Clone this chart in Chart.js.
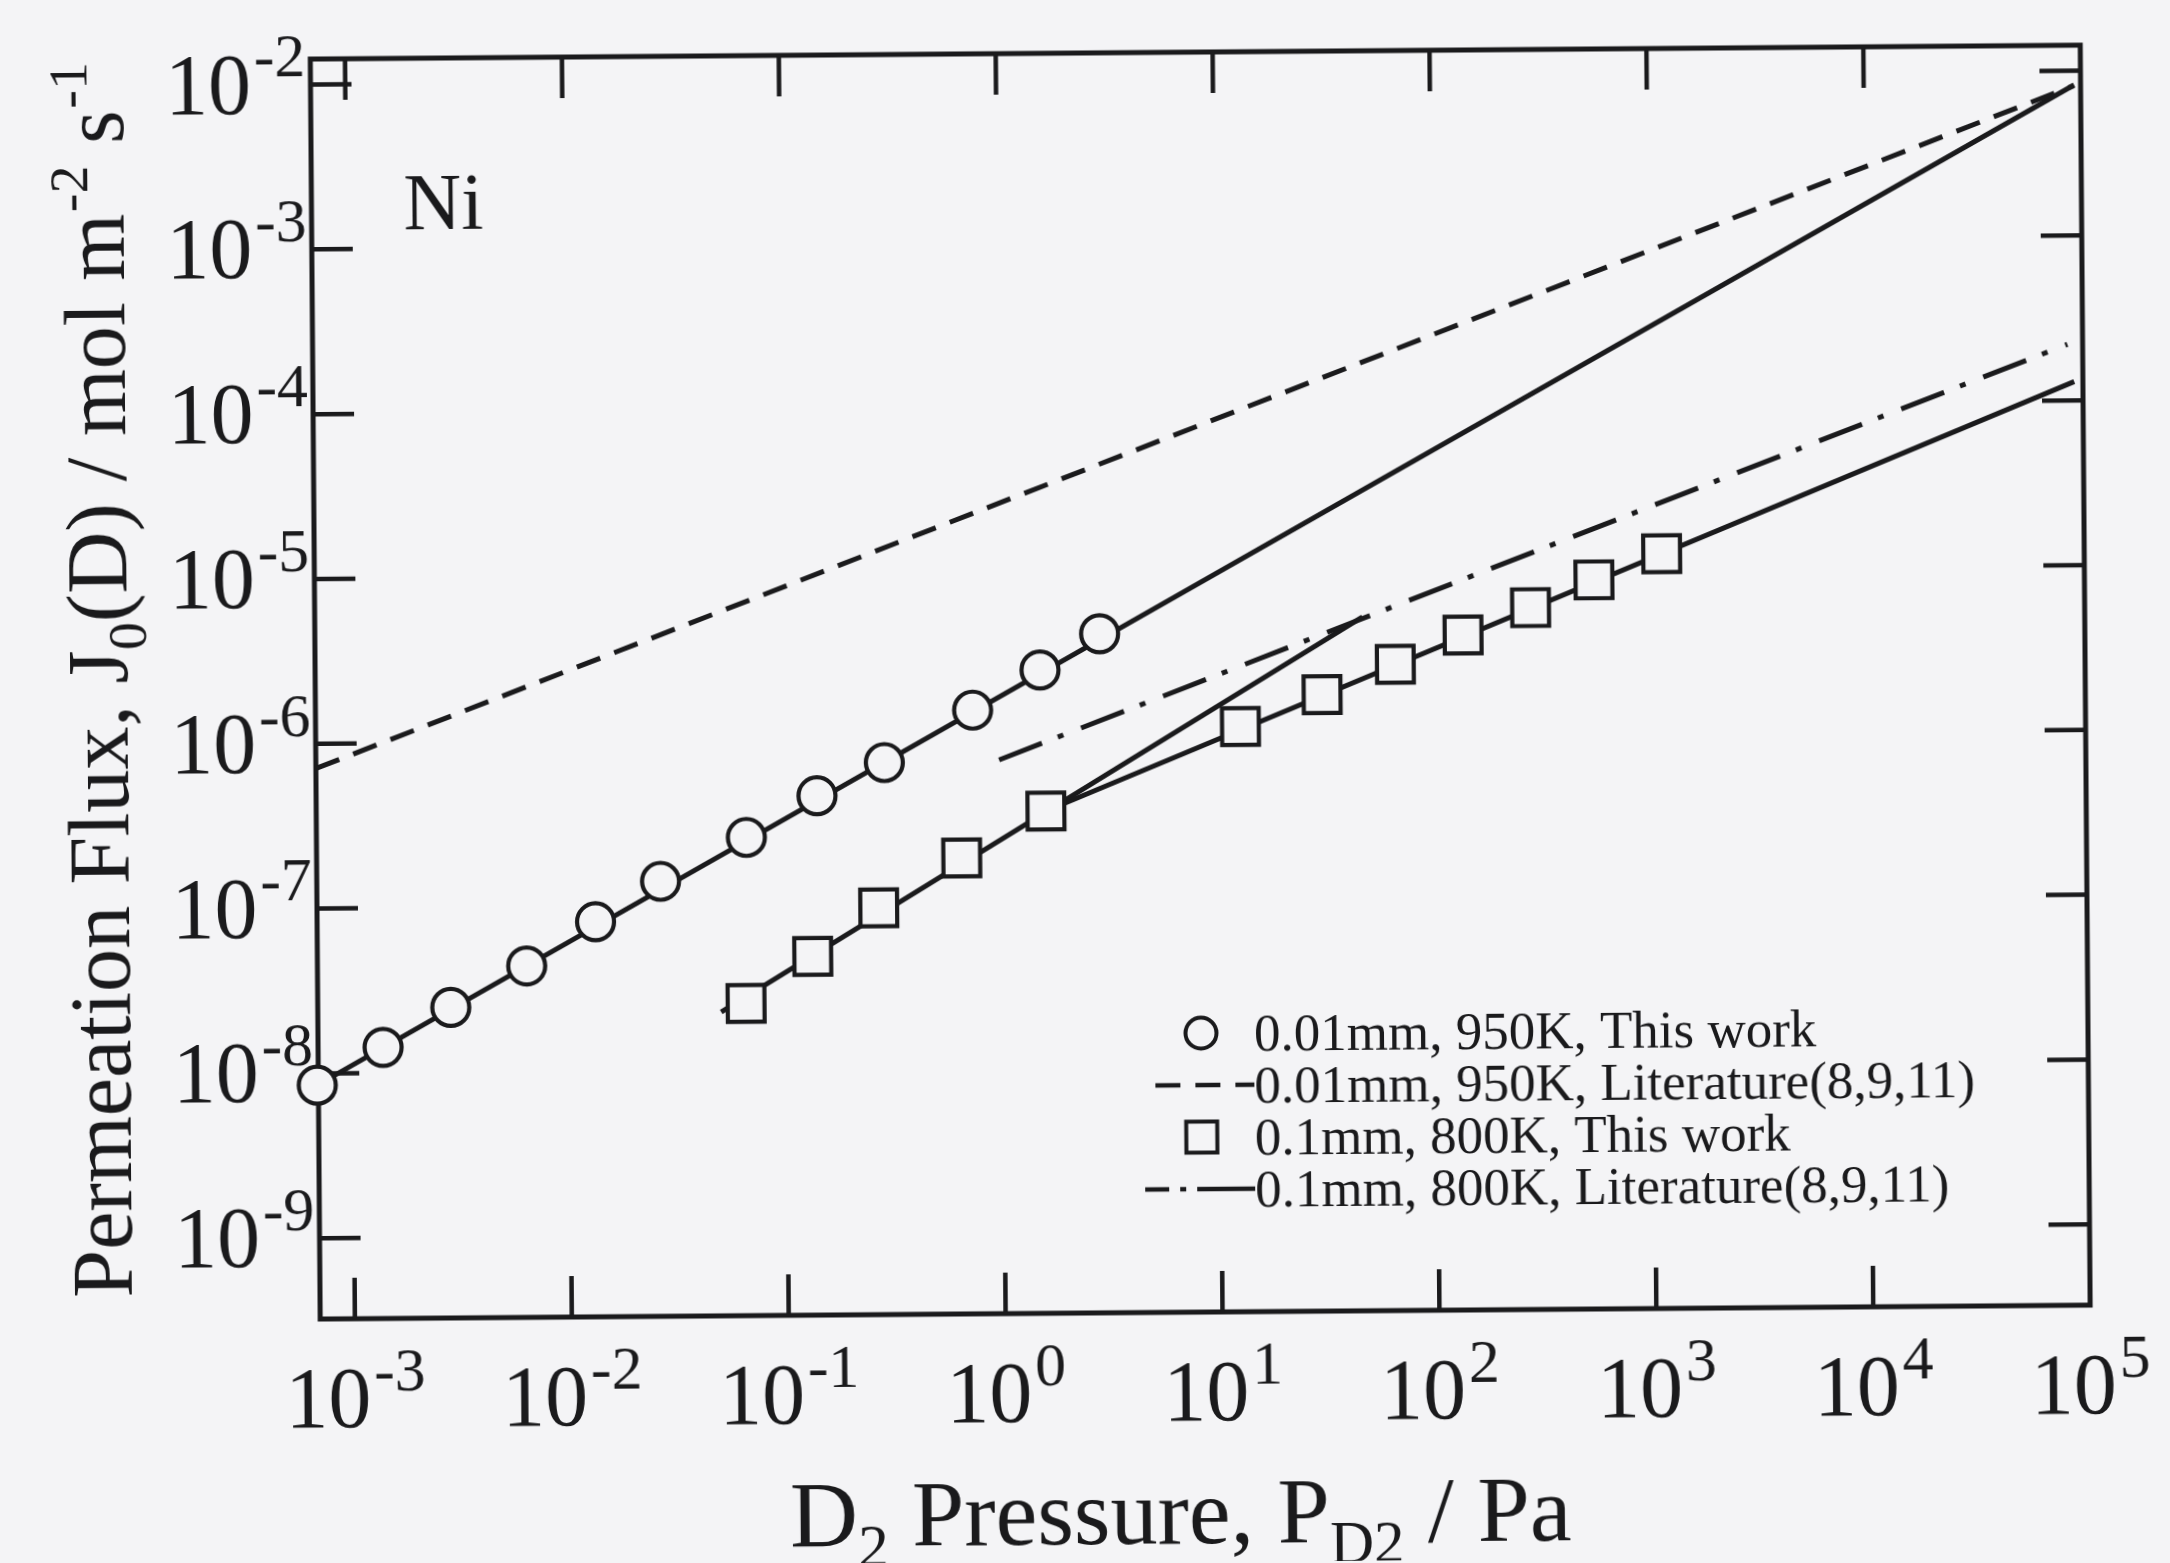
<!DOCTYPE html>
<html>
<head>
<meta charset="utf-8">
<title>Ni permeation flux vs D2 pressure</title>
<script src="https://cdn.jsdelivr.net/npm/chart.js@4.4.1/dist/chart.umd.min.js"></script>
<style>
  html, body { margin: 0; padding: 0; background: #f4f4f6; overflow: hidden; }
  #wrap { width: 2170px; height: 1563px; transform: rotate(-0.45deg); transform-origin: 50% 50%; }
  canvas { display: block; }
</style>
</head>
<body>
<div id="wrap"><canvas id="chart" width="2170" height="1563"></canvas></div>
<script>
// ---- data: D2 pressure (Pa) and permeation flux J0(D) (mol m^-2 s^-1) ----
const circleP = [6.84e-4, 1.38e-3, 2.84e-3, 6.38e-3, 1.33e-2, 2.66e-2, 6.64e-2, 0.141, 0.289, 0.741, 1.52, 2.87];
const circleJ = [8.49e-9, 1.43e-8, 2.48e-8, 4.39e-8, 8.07e-8, 1.41e-7, 2.58e-7, 4.58e-7, 7.23e-7, 1.49e-6, 2.59e-6, 4.27e-6];

const squareP = [6.53e-2, 0.133, 0.269, 0.652, 1.60, 12.7, 30.3, 66.1, 136, 279, 548, 1127];
const squareJ = [2.54e-8, 4.86e-8, 9.51e-8, 1.89e-7, 3.61e-7, 1.15e-6, 1.78e-6, 2.70e-6, 4.03e-6, 5.87e-6, 8.59e-6, 1.23e-5];

// fitted line through the 0.01 mm / 950 K points
const fit950P = [6.84e-4, 9.33e4];
const fit950J = [8.49e-9, 8.2e-3];

// fitted lines through the 0.1 mm / 800 K points (low- and high-pressure branches)
const fit800LowP = [5.01e-2, 46.8];
const fit800LowJ = [2.26e-8, 5.25e-6];
const fit800HighP = [1.60, 9.12e4];
const fit800HighJ = [3.61e-7, 1.30e-4];

// literature lines (8,9,11)
const lit950P = [6.92e-4, 9.33e4];
const lit950J = [7.08e-7, 8.13e-3];
const lit800P = [0.977, 8.51e4];
const lit800J = [7.41e-7, 2.19e-4];

// axis decades
const xTickPowers = [-3, -2, -1, 0, 1, 2, 3, 4, 5];
const yTickPowers = [-9, -8, -7, -6, -5, -4, -3, -2];

const seriesLabels = [
  '0.01mm, 950K, This work',
  '0.01mm, 950K, Literature(8,9,11)',
  '0.1mm, 800K, This work',
  '0.1mm, 800K, Literature(8,9,11)'
];
const panelLabel = 'Ni';

// ---- styling ----
const INK = '#1a1a1c';
const BG = '#f4f4f6';
const FONT = '"Liberation Serif", "Times New Roman", Times, serif';

const pts = (xs, ys) => xs.map((x, i) => ({ x: x, y: ys[i] }));

// rich text with sub/superscripts: segments {t, k: size factor, dy: baseline shift in em, pre: gap}
function richWidth(ctx, segs, size) {
  let w = 0;
  for (const s of segs) {
    ctx.font = `${size * (s.k || 1)}px ${FONT}`;
    w += (s.pre || 0) + ctx.measureText(s.t).width;
  }
  return w;
}
function drawRich(ctx, segs, x, y, size, align) {
  const w = richWidth(ctx, segs, size);
  let cx = align === 'center' ? x - w / 2 : align === 'right' ? x - w : x;
  ctx.textAlign = 'left';
  ctx.textBaseline = 'alphabetic';
  for (const s of segs) {
    ctx.font = `${size * (s.k || 1)}px ${FONT}`;
    cx += (s.pre || 0);
    ctx.fillText(s.t, cx, y + (s.dy || 0) * size);
    cx += ctx.measureText(s.t).width;
  }
}
const powerLabel = p => [{ t: '10' }, { t: String(p), k: 0.72, dy: -0.42, pre: 3 }];

// frame, inward ticks, tick labels, axis titles, panel label
const axesPlugin = {
  id: 'paperAxes',
  beforeDatasetsDraw(chart) {
    const { ctx, chartArea: a, scales } = chart;
    const xs = scales.x, ys = scales.y;
    ctx.save();
    ctx.strokeStyle = INK;
    ctx.fillStyle = INK;
    ctx.lineWidth = 5;
    ctx.lineCap = 'butt';
    ctx.strokeRect(a.left, a.top, a.right - a.left, a.bottom - a.top);

    const tl = 41;
    ctx.lineWidth = 4.5;
    ctx.beginPath();
    for (const p of xTickPowers) {
      const x = xs.getPixelForValue(Math.pow(10, p));
      if (x <= a.left + 2 || x >= a.right - 2) continue;
      ctx.moveTo(x, a.bottom); ctx.lineTo(x, a.bottom - tl);
      ctx.moveTo(x, a.top); ctx.lineTo(x, a.top + tl);
    }
    for (const p of yTickPowers) {
      const y = ys.getPixelForValue(Math.pow(10, p));
      if (y <= a.top + 2 || y >= a.bottom - 2) continue;
      ctx.moveTo(a.left, y); ctx.lineTo(a.left + tl, y);
      ctx.moveTo(a.right, y); ctx.lineTo(a.right - tl, y);
    }
    ctx.stroke();

    // tick labels
    for (const p of xTickPowers) {
      const x = xs.getPixelForValue(Math.pow(10, p));
      drawRich(ctx, powerLabel(p), x, a.bottom + 108, 86, 'center');
    }
    for (const p of yTickPowers) {
      const y = ys.getPixelForValue(Math.pow(10, p));
      drawRich(ctx, powerLabel(p), a.left - 5, y + 28, 86, 'right');
    }

    // axis titles
    const xTitle = [
      { t: 'D' }, { t: '2', k: 0.65, dy: 0.22 },
      { t: ' Pressure, P' }, { t: 'D2', k: 0.65, dy: 0.22 },
      { t: ' / Pa' }
    ];
    drawRich(ctx, xTitle, 1175, 1544, 94, 'center');

    const yTitle = [
      { t: 'Permeation Flux, J' }, { t: '0', k: 0.65, dy: 0.22 },
      { t: '(D) / mol m' }, { t: '-2', k: 0.65, dy: -0.42, pre: 2 },
      { t: ' s' }, { t: '-1', k: 0.65, dy: -0.42, pre: 2 }
    ];
    ctx.save();
    ctx.translate(128, 672);
    ctx.rotate(-Math.PI / 2);
    drawRich(ctx, yTitle, 0, 0, 86, 'center');
    ctx.restore();

    // panel label
    ctx.font = `80px ${FONT}`;
    ctx.textAlign = 'left';
    ctx.fillText(panelLabel, 408, 224);
    ctx.restore();
  },
  afterDatasetsDraw(chart) {
    // key drawn in the lower right of the plot
    const { ctx } = chart;
    const ds = chart.data.datasets;
    ctx.save();
    ctx.strokeStyle = INK;
    ctx.fillStyle = INK;
    const textX = 1252, symX = 1199;
    const rows = [1034, 1086, 1138, 1190];
    // row 1: circle
    ctx.beginPath();
    ctx.fillStyle = BG;
    ctx.arc(symX, rows[0], 15.5, 0, Math.PI * 2);
    ctx.fill();
    ctx.lineWidth = 4;
    ctx.stroke();
    // row 2: dashed sample
    ctx.lineWidth = 4.5;
    ctx.setLineDash(ds[2].borderDash);
    ctx.beginPath();
    ctx.moveTo(1153, rows[1]); ctx.lineTo(textX, rows[1]);
    ctx.stroke();
    ctx.setLineDash([]);
    // row 3: square
    ctx.fillStyle = BG;
    ctx.fillRect(symX - 15.5, rows[2] - 15.5, 31, 31);
    ctx.lineWidth = 4;
    ctx.strokeRect(symX - 15.5, rows[2] - 15.5, 31, 31);
    // row 4: dash-dot sample
    ctx.lineWidth = 4.5;
    ctx.beginPath();
    ctx.moveTo(1142, rows[3]); ctx.lineTo(1166, rows[3]);
    ctx.moveTo(1177, rows[3]); ctx.lineTo(1183, rows[3]);
    ctx.moveTo(1194, rows[3]); ctx.lineTo(textX, rows[3]);
    ctx.stroke();

    ctx.fillStyle = INK;
    ctx.font = `53px ${FONT}`;
    ctx.textAlign = 'left';
    ctx.textBaseline = 'alphabetic';
    const order = [0, 2, 1, 3];
    order.forEach((di, r) => {
      ctx.fillText(ds[di].label, textX, rows[r] + 18);
    });
    ctx.restore();
  }
};

const lineStyle = (extra) => Object.assign({
  showLine: true,
  borderColor: INK,
  borderWidth: 5,
  pointRadius: 0,
  fill: false,
  tension: 0,
  order: 2
}, extra);

new Chart(document.getElementById('chart'), {
  type: 'scatter',
  data: {
    datasets: [
      {
        label: seriesLabels[0],
        data: pts(circleP, circleJ),
        pointStyle: 'circle',
        pointRadius: 18.5,
        pointBorderWidth: 4.2,
        pointBorderColor: INK,
        pointBackgroundColor: BG,
        showLine: false,
        clip: false,
        order: 0
      },
      {
        label: seriesLabels[2],
        data: pts(squareP, squareJ),
        pointStyle: 'rect',
        pointRadius: 26,
        pointBorderWidth: 4.2,
        pointBorderColor: INK,
        pointBackgroundColor: BG,
        showLine: false,
        clip: false,
        order: 0
      },
      lineStyle({ label: seriesLabels[1], data: pts(lit950P, lit950J), borderDash: [25, 15] }),
      lineStyle({ label: seriesLabels[3], data: pts(lit800P, lit800J), borderDash: [46, 17, 6, 19] }),
      lineStyle({ label: 'fit 950K', data: pts(fit950P, fit950J) }),
      lineStyle({ label: 'fit 800K low', data: pts(fit800LowP, fit800LowJ) }),
      lineStyle({ label: 'fit 800K high', data: pts(fit800HighP, fit800HighJ) })
    ]
  },
  options: {
    responsive: false,
    animation: false,
    events: [],
    layout: { padding: { left: 316, top: 53, right: 84, bottom: 250 } },
    scales: {
      x: { type: 'logarithmic', display: false, min: Math.pow(10, -3.16), max: 1e5 },
      y: { type: 'logarithmic', display: false, min: Math.pow(10, -9.49), max: Math.pow(10, -1.845) }
    },
    plugins: {
      legend: { display: false },
      tooltip: { enabled: false }
    }
  },
  plugins: [axesPlugin]
});
</script>
</body>
</html>
